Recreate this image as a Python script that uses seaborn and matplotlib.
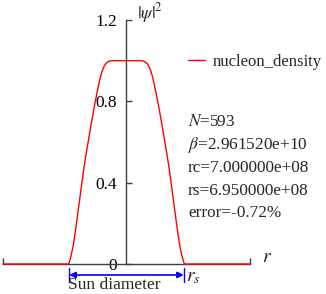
import numpy as np
import pandas as pd
import seaborn as sns
import matplotlib.pyplot as plt

# --- data (r in units of 1e8 m, right half; left half is its mirror) ---
r_half = [0.0, 1.71, 1.95, 2.11, 2.30, 2.52, 2.72, 2.93, 3.13, 3.33, 3.53, 3.74, 3.94,
          4.14, 4.35, 4.55, 4.75, 4.95, 5.16, 5.45, 5.77, 6.10, 6.38, 6.55, 6.67, 6.80,
          6.90, 7.05, 15.0]
density_half = [1.0, 1.0, 0.999, 0.997, 0.993, 0.985, 0.972, 0.952, 0.925, 0.892,
                0.852, 0.810, 0.768, 0.722, 0.675, 0.626, 0.578, 0.530, 0.475, 0.390,
                0.292, 0.192, 0.112, 0.075, 0.052, 0.030, 0.014, 0.0, 0.0]

y_ticks = [0, 0.4, 0.8, 1.2]
y_tick_labels = ["0", "0.4", "0.8", "1.2"]
x_limits = [-15.0, 15.0]
rs = 6.95
info_lines = [r"$N$=593", r"$\beta$=2.961520e+10", "rc=7.000000e+08",
              "rs=6.950000e+08", "error=-0.72%"]

r_all = [-v for v in r_half[::-1]] + r_half[1:]
d_all = density_half[::-1] + density_half[1:]
df = pd.DataFrame({"r": r_all, "density": d_all})

sns.set_style("ticks")
plt.rcParams["font.family"] = ["Liberation Serif", "DejaVu Serif"]
plt.rcParams["mathtext.fontset"] = "stix"
plt.rcParams["font.size"] = 12

fig = plt.figure(figsize=(3.26, 2.94), dpi=100)
ax = fig.add_axes([3 / 326, 30 / 294, 247 / 326, 244 / 294])

sns.lineplot(data=df, x="r", y="density", color="red", lw=1.0, sort=False,
             label="nucleon_density", ax=ax, zorder=3, clip_on=False)

ax.set_xlim(*x_limits)
ax.set_ylim(0, 1.2)
ax.spines["left"].set_position(("data", 0))
ax.spines["top"].set_visible(False)
ax.spines["right"].set_visible(False)
for s in ["left", "bottom"]:
    ax.spines[s].set_color("#404040")
    ax.spines[s].set_linewidth(1.0)

ax.set_yticks(y_ticks)
ax.set_yticklabels(y_tick_labels)
ax.set_xticks(x_limits)
ax.set_xticklabels(["", ""])
ax.tick_params(axis="y", direction="in", length=4, width=1, pad=7, colors="#404040",
               labelcolor="black", labelsize=12.5)
ax.tick_params(axis="x", direction="in", length=4, width=1, colors="#404040")
ax.set_xlabel("")
ax.set_ylabel("")

# axis names
ax.text(1.3, 1.235, r"$|\psi|^2$", ha="left", va="center", fontsize=13, clip_on=False)
ax.text(17.1, 0.034, r"$r$", ha="center", va="center", fontsize=14, clip_on=False)

# Sun diameter arrow
ax.annotate("", xy=(-rs, -0.054), xytext=(rs, -0.054),
            arrowprops=dict(arrowstyle="<|-|>", color="blue", lw=1.2,
                            shrinkA=0, shrinkB=0, mutation_scale=9),
            annotation_clip=False)
for xv in [-rs, rs]:
    ax.plot([xv, xv], [-0.02, -0.09], color="blue", lw=1.0, clip_on=False)
ax.text(-rs - 0.1, -0.066, "Sun diameter", ha="left", va="top", fontsize=12.5, clip_on=False)
ax.text(rs + 1.2, -0.064, r"$r_s$", ha="center", va="center", fontsize=14, clip_on=False)

ax.legend(loc="center left", bbox_to_anchor=(188 / 326, 1 - 62 / 294),
          bbox_transform=fig.transFigure, frameon=False, handlelength=1.0,
          handletextpad=0.5, borderpad=0, borderaxespad=0, fontsize=12)

y_pos = [122, 145, 168, 191, 213]
for txt, yp in zip(info_lines, y_pos):
    fig.text(188 / 326, 1 - yp / 294, txt, ha="left", va="center", fontsize=12.4)

fig.savefig("out.png", dpi=100)
